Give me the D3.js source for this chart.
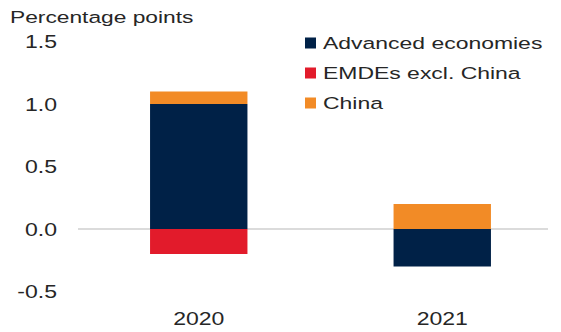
<!DOCTYPE html>
<html>
<head>
<meta charset="utf-8">
<script src="https://cdn.jsdelivr.net/npm/d3@7"></script>
<style>
  body { margin: 0; background: #fff; }
  text { font-family: "Liberation Sans", Arial, sans-serif; fill: #262626; }
</style>
</head>
<body>
<svg id="chart" width="561" height="332"></svg>
<script>
// data
const years = ['2020', '2021'];
const series = ['Advanced economies', 'EMDEs excl. China', 'China'];
const advanced = [1.0, -0.3];
const emdesExChina = [-0.2, 0.0];
const china = [0.1, 0.2];
const yTicks = [-0.5, 0, 0.5, 1.0, 1.5];
const colors = ['#002147', '#e21b2b', '#f28b26'];

const svg = d3.select('#chart');

const rows = years.map((yr, i) => ({
  year: yr,
  'Advanced economies': advanced[i],
  'EMDEs excl. China': emdesExChina[i],
  'China': china[i]
}));

const stacked = d3.stack().keys(series).offset(d3.stackOffsetDiverging)(rows);

const x = d3.scaleBand().domain(years).range([77, 564]).paddingInner(0.6).paddingOuter(0.3);
const y = d3.scaleLinear().domain([-0.5, 1.5]).range([291.5, 41.5]);
const color = d3.scaleOrdinal().domain(series).range(colors);

// the source picture is stretched sideways, so widen text to match
const stretch = (sel, sx) => sel.attr('transform', `scale(${sx},1)`);

// y tick labels (no axis line)
const yAxis = d3.axisLeft(y).tickValues(yTicks).tickFormat(d3.format('.1f')).tickSize(0).tickPadding(0);
const yg = svg.append('g').attr('transform', 'translate(57,0)').call(yAxis);
yg.select('.domain').remove();
yg.selectAll('text').style('font-size', '18px').attr('dy', '0.35em')
  .text(d => d3.format('.1f')(d).replace('−', '-'))
  .call(stretch, 1.28);

// zero line
svg.append('line')
  .attr('x1', 78).attr('x2', 548)
  .attr('y1', y(0)).attr('y2', y(0))
  .attr('stroke', '#cfcfcf').attr('stroke-width', 1.5);

// stacked bars
svg.append('g').selectAll('g')
  .data(stacked)
  .join('g')
  .attr('fill', d => color(d.key))
  .selectAll('rect')
  .data(d => d)
  .join('rect')
  .attr('x', d => x(d.data.year))
  .attr('width', x.bandwidth())
  .attr('y', d => y(Math.max(d[0], d[1])))
  .attr('height', d => Math.abs(y(d[0]) - y(d[1])));

// x labels
const xAxis = d3.axisBottom(x).tickSize(0).tickPadding(0);
const xg = svg.append('g').attr('transform', 'translate(0,312)').call(xAxis);
xg.select('.domain').remove();
xg.selectAll('text').style('font-size', '18px').attr('dy', '0.71em').call(stretch, 1.28);

// y-axis title
svg.append('g').attr('transform', 'translate(10,23)')
  .append('text')
  .style('font-size', '17px')
  .text('Percentage points')
  .call(stretch, 1.34);

// legend
const legend = svg.append('g').attr('transform', 'translate(305,43)');
const item = legend.selectAll('g')
  .data(series)
  .join('g')
  .attr('transform', (d, i) => `translate(0,${i * 30})`);
item.append('rect')
  .attr('x', 0).attr('y', -5.5)
  .attr('width', 11).attr('height', 11)
  .attr('fill', d => color(d));
item.append('g').attr('transform', 'translate(18,0)')
  .append('text')
  .attr('dy', '0.35em')
  .style('font-size', '17px')
  .text(d => d)
  .call(stretch, 1.35);
</script>
</body>
</html>
